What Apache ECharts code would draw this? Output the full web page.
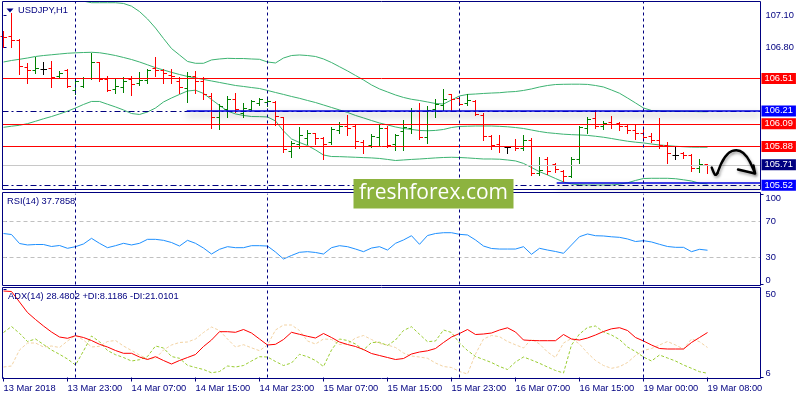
<!DOCTYPE html>
<html><head><meta charset="utf-8">
<script src="https://cdn.jsdelivr.net/npm/echarts@6/dist/echarts.min.js"></script>
<style>html,body{margin:0;padding:0;background:#fff}#c{width:800px;height:400px}</style>
</head><body><div id="c"></div>
<script>
// ---- x axis ticks / time labels ----
const tickIndex = [0, 8, 16, 24, 32, 40, 48, 56, 64, 72, 80, 88];
const tickLabels = ['13 Mar 2018', '13 Mar 23:00', '14 Mar 07:00', '14 Mar 15:00', '14 Mar 23:00', '15 Mar 07:00',
  '15 Mar 15:00', '15 Mar 23:00', '16 Mar 07:00', '16 Mar 15:00', '19 Mar 00:00', '19 Mar 08:00'];
const daySeparators = [9, 33, 57, 80];

// ---- USDJPY H1 OHLC ----
const open = [106.899,106.905,106.868,106.615,106.584,106.596,106.605,106.528,106.584,106.404,
  106.441,106.513,106.658,106.506,106.410,106.429,106.497,106.466,106.491,106.605,
  106.584,106.543,106.482,106.420,106.534,106.482,106.342,106.151,106.219,106.318,
  106.188,106.225,106.281,106.287,106.287,106.151,105.832,105.903,105.956,106.002,
  105.956,105.916,106.033,106.070,106.064,105.916,105.885,105.965,106.049,105.894,
  106.018,106.049,106.203,105.965,106.219,106.256,106.358,106.324,106.281,106.302,
  106.172,105.971,105.903,105.869,105.879,105.863,105.934,105.631,105.761,105.709,
  105.647,105.600,105.755,106.049,106.141,106.064,106.101,106.089,106.070,106.027,
  106.002,105.971,105.940,105.885,105.792,105.817,105.792,105.678,105.712];
const high = [106.952,107.115,106.874,106.652,106.707,106.667,106.673,106.584,106.599,106.497,
  106.522,106.744,106.667,106.534,106.513,106.522,106.534,106.574,106.596,106.707,
  106.596,106.596,106.522,106.574,106.581,106.528,106.380,106.271,106.352,106.373,
  106.281,106.312,106.327,106.318,106.302,106.157,105.934,106.058,106.033,106.009,
  105.965,106.058,106.111,106.172,106.080,105.940,105.996,106.080,106.070,105.993,
  106.126,106.234,106.281,106.256,106.318,106.410,106.367,106.342,106.364,106.312,
  106.188,105.987,105.987,105.888,105.947,105.987,105.956,105.786,105.780,105.724,
  105.662,105.780,106.070,106.151,106.219,106.120,106.163,106.111,106.089,106.080,
  106.064,106.002,106.141,105.925,105.879,105.832,105.811,105.761,105.716];
const low = [106.806,106.806,106.553,106.466,106.565,106.553,106.435,106.513,106.429,106.367,
  106.429,106.503,106.488,106.395,106.380,106.389,106.358,106.451,106.466,106.534,
  106.472,106.466,106.380,106.296,106.373,106.318,106.049,106.043,106.157,106.203,
  106.151,106.219,106.265,106.256,106.080,105.832,105.786,105.863,105.903,105.903,
  105.761,105.903,106.009,105.987,105.863,105.817,105.879,105.894,105.879,105.848,
  105.848,106.002,105.947,105.916,106.157,106.219,106.213,106.265,106.265,106.172,
  105.940,105.854,105.832,105.823,105.848,105.848,105.616,105.616,105.625,105.647,
  105.560,105.594,105.724,106.002,106.049,106.039,106.049,106.033,106.002,105.947,
  105.940,105.925,105.863,105.724,105.761,105.770,105.656,105.647,105.630];
const close = [106.893,106.862,106.621,106.584,106.605,106.596,106.522,106.559,106.441,106.482,
  106.513,106.661,106.506,106.404,106.435,106.482,106.451,106.488,106.584,106.584,
  106.553,106.528,106.429,106.534,106.482,106.367,106.151,106.250,106.318,106.219,
  106.234,106.296,106.312,106.302,106.157,105.848,105.910,105.978,106.002,105.956,
  105.903,106.039,106.070,106.049,105.925,105.879,105.971,106.049,105.885,105.978,
  106.055,106.203,105.965,106.213,106.265,106.312,106.312,106.274,106.305,106.179,
  105.971,105.888,105.879,105.869,105.863,105.940,105.631,105.656,105.647,105.662,
  105.600,105.761,106.058,106.132,106.070,106.095,106.080,106.064,106.033,105.996,
  105.965,105.940,105.885,105.811,105.792,105.792,105.678,105.709,105.705];

// ---- Bollinger bands ----
const bbUpper = [107.30,107.30,107.29,107.28,107.27,107.26,107.25,107.24,107.235,107.232,
  107.228,107.214,107.214,107.214,107.214,107.207,107.182,107.132,107.063,106.979,
  106.882,106.789,106.729,106.669,106.652,106.652,106.683,106.692,106.698,106.696,
  106.696,106.692,106.689,106.664,106.655,106.701,106.724,106.729,106.724,106.715,
  106.692,106.659,106.620,106.581,106.539,106.497,106.451,106.414,106.386,106.358,
  106.335,106.318,106.307,106.293,106.279,106.274,106.312,106.349,106.363,106.367,
  106.372,106.376,106.379,106.386,106.390,106.400,106.414,106.432,106.446,106.455,
  106.457,106.458,106.458,106.456,106.446,106.432,106.404,106.374,106.330,106.284,
  106.237,106.214,106.209,106.207,106.207,106.205,106.205,106.203,106.203];
const bbMiddle = [106.664,106.678,106.689,106.701,106.715,106.724,106.731,106.738,106.745,106.749,
  106.752,106.754,106.750,106.738,106.724,106.706,106.687,106.664,106.638,106.611,
  106.590,106.568,106.548,106.530,106.516,106.502,106.488,106.474,106.460,106.446,
  106.437,106.427,106.418,106.400,106.381,106.363,106.344,106.327,106.307,106.288,
  106.265,106.242,106.219,106.196,106.168,106.145,106.121,106.098,106.080,106.061,
  106.047,106.038,106.029,106.026,106.029,106.038,106.056,106.066,106.068,106.070,
  106.070,106.070,106.067,106.063,106.056,106.047,106.033,106.019,106.008,106.001,
  105.994,105.990,105.987,105.983,105.975,105.966,105.954,105.941,105.929,105.920,
  105.913,105.903,105.894,105.888,105.882,105.878,105.874,105.873,105.873];
const bbLower = [106.058,106.068,106.077,106.092,106.114,106.137,106.158,106.182,106.208,106.237,
  106.270,106.298,106.298,106.272,106.247,106.219,106.186,106.177,106.200,106.237,
  106.293,106.330,106.363,106.395,106.402,106.372,106.316,106.261,106.209,106.182,
  106.168,106.158,106.157,106.154,106.117,106.024,105.950,105.917,105.889,105.848,
  105.801,105.787,105.786,105.783,105.780,105.777,105.774,105.769,105.760,105.750,
  105.755,105.760,105.764,105.769,105.774,105.778,105.780,105.778,105.774,105.769,
  105.764,105.764,105.762,105.755,105.746,105.723,105.685,105.646,105.616,105.583,
  105.551,105.532,105.525,105.523,105.523,105.523,105.523,105.530,105.543,105.565,
  105.583,105.585,105.585,105.585,105.581,105.571,105.560,105.539,105.532];

// ---- RSI(14) ----
const rsi = [56.2,55.1,45.2,43.6,44.1,44.1,41.9,43.0,39.9,41.7,
  44.7,50.9,45.4,40.6,42.8,45.4,43.6,45.4,49.8,49.8,
  48.7,46.3,42.4,48.7,45.4,40.2,33.6,38.8,41.7,40.6,
  40.6,42.8,42.8,42.4,35.8,28.1,32.0,35.5,36.2,35.3,
  33.6,40.6,42.8,41.7,39.1,36.2,40.2,41.7,38.0,45.4,
  49.1,53.8,44.3,54.0,56.2,57.1,57.1,55.3,54.6,49.1,
  42.4,39.7,39.1,39.1,39.1,41.7,33.3,39.9,38.0,36.4,
  34.4,43.6,52.7,55.7,53.8,53.5,52.6,52.0,50.2,47.4,
  48.3,46.9,44.3,41.9,41.0,41.0,36.2,38.8,37.79];
const rsiLevels = [70, 30];

// ---- ADX(14) ----
const adx = [49.25,49.0,43.75,38.5,35.0,31.75,28.75,26.25,25.6,26.9,
  26.0,24.5,22.6,21.25,19.5,18.1,18.1,16.25,15.0,16.4,
  14.5,12.75,14.5,16.0,17.5,21.5,24.75,28.9,28.9,28.6,
  30.0,28.25,25.25,22.25,22.6,25.0,28.6,27.6,26.6,25.75,
  28.0,26.0,23.75,22.5,21.5,20.0,18.0,17.0,16.0,15.0,
  15.5,17.75,18.75,19.35,20.5,23.5,26.25,28.0,30.0,27.5,
  27.75,28.25,29.75,30.85,28.75,24.75,24.5,24.4,24.4,24.4,
  27.5,25.25,24.75,25.75,27.25,29.0,30.35,30.9,29.5,26.0,
  24.25,22.25,20.5,20.25,20.25,20.25,23.5,26.0,28.48];
const plusDI = [28.5,31.5,28.1,24.0,25.25,22.5,19.75,17.6,15.25,12.25,
  19.25,26.75,23.9,19.5,17.4,16.0,14.25,14.9,16.5,21.75,
  20.75,16.5,15.6,12.1,11.0,10.0,8.35,9.0,11.75,11.25,
  12.0,14.25,16.4,16.25,14.0,12.0,13.25,17.6,16.4,14.5,
  11.5,19.75,25.25,24.5,22.75,19.75,23.5,23.6,22.0,24.75,
  29.5,31.4,27.6,23.9,24.25,29.75,28.5,23.25,19.5,16.5,
  15.0,13.5,11.5,10.0,13.75,16.25,14.75,13.1,11.25,9.5,
  8.25,22.25,27.75,31.0,31.75,28.75,27.25,25.0,21.25,19.0,
  16.25,14.25,17.25,15.75,14.25,12.25,10.6,8.9,8.12];
const minusDI = [11.25,11.75,19.75,23.25,23.25,21.25,21.75,21.0,24.25,27.0,
  24.75,21.25,21.6,24.0,24.5,21.75,19.5,17.25,15.25,15.5,
  19.75,22.25,23.5,23.75,25.25,28.5,31.25,29.5,25.25,21.25,
  22.4,20.85,19.4,22.25,29.75,32.25,32.25,29.5,24.25,22.75,
  25.25,25.0,22.5,22.85,25.75,27.0,25.0,23.0,22.25,21.0,
  18.25,16.75,16.25,15.6,13.25,11.5,11.0,9.0,7.75,17.75,
  25.25,27.0,26.4,24.0,22.35,20.75,25.25,22.75,18.75,16.0,
  23.25,25.5,22.75,18.25,14.5,12.0,10.6,11.4,13.5,17.0,
  19.5,20.5,22.25,24.0,22.25,20.25,25.25,23.9,21.01];

// ---- horizontal levels ----
const redLevels = [106.51, 106.09, 105.88];
const bidLevel = 105.71;
const hLevels = [106.21, 105.52];
const trendLevels = [106.21, 105.545];
const trendStart = [22.9, 69.15];
const priceTicks = [107.10, 106.80];

// ---- styles / layout ----
const NAVY = '#000080';
const FONT = 'Liberation Sans';
const FS = 9.3;
const XMIN = -0.125, XMAX = 94.625;

const chart = echarts.init(document.getElementById('c'), null, {renderer: 'canvas'});

function xAx(g, showLabels) {
  return {
    type: 'value', gridIndex: g, min: XMIN, max: XMAX,
    axisLine: {show: false}, splitLine: {show: false},
    axisTick: showLabels ? {show: true, customValues: tickIndex, length: 4, lineStyle: {color: NAVY}} : {show: false},
    axisLabel: showLabels ? {
      show: true, customValues: tickIndex, align: 'left', margin: 6,
      color: NAVY, fontFamily: FONT, fontSize: FS,
      formatter: v => tickLabels[tickIndex.indexOf(Math.round(v))] || ''
    } : {show: false}
  };
}
function yAx(g, min, max, vals, fmt, vAlign) {
  return {
    type: 'value', gridIndex: g, position: 'right', min: min, max: max,
    axisLine: {show: false}, splitLine: {show: false},
    axisTick: {show: true, customValues: vals, length: 3, lineStyle: {color: NAVY}},
    axisLabel: {show: true, customValues: vals, margin: 5, color: NAVY, fontFamily: FONT, fontSize: FS,
      verticalAlign: vAlign || 'middle', formatter: fmt}
  };
}
const sepStyle = {color: NAVY, type: [3, 3], width: 1};

const ohlc = open.map((o, i) => [i, o, high[i], low[i], close[i]]);
const toXY = arr => arr.map((v, i) => [i, v]);

const lvlLabel = (bg, v) => ({show: true, backgroundColor: bg, formatter: v.toFixed(2)});
const levelData = [];
hLevels.forEach(v => levelData.push({yAxis: v, lineStyle: {color: NAVY, type: [6, 3, 2, 3], width: 1}, label: lvlLabel('#0000ff', v)}));
redLevels.forEach(v => levelData.push({yAxis: v, lineStyle: {color: '#ff0000', type: 'solid', width: 1}, label: lvlLabel('#ff0000', v)}));
levelData.push({yAxis: bidLevel, lineStyle: {color: '#c8c8c8', type: 'solid', width: 1}, label: lvlLabel(NAVY, bidLevel)});
trendLevels.forEach((v, k) => levelData.push([
  {coord: [trendStart[k], v], label: {show: false},
   lineStyle: {color: '#0000dd', type: 'solid', width: 1.5, shadowColor: 'rgba(0,0,0,0.45)', shadowBlur: 7, shadowOffsetY: 4}},
  {coord: [XMAX, v]}
]));
daySeparators.forEach(v => levelData.push({xAxis: v, lineStyle: sepStyle, label: {show: false}}));

const ARROW_STYLE = {fill: 'none', stroke: '#000000', lineWidth: 2.4, lineCap: 'round', lineJoin: 'round',
  shadowColor: 'rgba(0,0,0,0.35)', shadowBlur: 3, shadowOffsetX: 1, shadowOffsetY: 2};
const TXT = FS + 'px "' + FONT + '"';

const option = {
  animation: false,
  backgroundColor: '#ffffff',
  textStyle: {fontFamily: FONT},
  grid: [
    {left: 2.5, top: 1.5, width: 758, height: 188},
    {left: 2.5, top: 193.8, width: 758, height: 90.7},
    {left: 2.5, top: 289.5, width: 758, height: 88}
  ],
  xAxis: [xAx(0, false), xAx(1, false), xAx(2, true)],
  yAxis: [
    yAx(0, 105.481, 107.2252, priceTicks, v => v.toFixed(2)),
    yAx(1, 0, 100, [30, 70], v => String(v)),
    yAx(1, 0, 100, [100], v => String(v), 'top'),
    yAx(1, 0, 100, [0], v => String(v), 'bottom'),
    yAx(2, 6, 50, [50], v => String(v), 'top'),
    yAx(2, 6, 50, [6], v => String(v), 'bottom')
  ],
  series: [
    {
      type: 'line', xAxisIndex: 0, yAxisIndex: 0, data: [], silent: true, z: 1,
      markLine: {
        symbol: ['none', 'none'], silent: true, animation: false,
        label: {show: true, position: 'end', distance: 1, color: '#ffffff', fontFamily: FONT, fontSize: FS,
          padding: [1, 3, 0, 3], lineHeight: 10},
        data: levelData
      }
    },
    {type: 'line', xAxisIndex: 0, yAxisIndex: 0, data: toXY(bbUpper), showSymbol: false, z: 2,
      lineStyle: {color: '#3cb371', width: 1}, itemStyle: {color: '#3cb371'}},
    {type: 'line', xAxisIndex: 0, yAxisIndex: 0, data: toXY(bbMiddle), showSymbol: false, z: 2,
      lineStyle: {color: '#3cb371', width: 1}, itemStyle: {color: '#3cb371'}},
    {type: 'line', xAxisIndex: 0, yAxisIndex: 0, data: toXY(bbLower), showSymbol: false, z: 2,
      lineStyle: {color: '#3cb371', width: 1}, itemStyle: {color: '#3cb371'}},
    {
      type: 'custom', xAxisIndex: 0, yAxisIndex: 0, data: ohlc, z: 3,
      renderItem: function (params, api) {
        const i = api.value(0), o = api.value(1), h = api.value(2), l = api.value(3), c = api.value(4);
        const pH = api.coord([i, h]), pL = api.coord([i, l]), pO = api.coord([i, o]), pC = api.coord([i, c]);
        const x = Math.round(pH[0] - 0.5) + 0.5;
        const col = c > o ? '#008000' : (c < o ? '#ff0000' : '#000000');
        const yo = Math.round(pO[1] - 0.5) + 0.5, yc = Math.round(pC[1] - 0.5) + 0.5;
        const st = {stroke: col, lineWidth: 1};
        return {type: 'group', children: [
          {type: 'line', shape: {x1: x, y1: Math.round(pH[1]), x2: x, y2: Math.round(pL[1]) + 1}, style: st},
          {type: 'line', shape: {x1: x - 3, y1: yo, x2: x, y2: yo}, style: st},
          {type: 'line', shape: {x1: x, y1: yc, x2: x + 3.5, y2: yc}, style: st}
        ]};
      }
    },
    {
      type: 'line', xAxisIndex: 1, yAxisIndex: 1, data: toXY(rsi), showSymbol: false,
      lineStyle: {color: '#1e90ff', width: 1}, itemStyle: {color: '#1e90ff'},
      markLine: {
        symbol: ['none', 'none'], silent: true, label: {show: false},
        data: rsiLevels.map(v => ({yAxis: v, lineStyle: {color: '#c0c0c0', type: [4, 3], width: 1}}))
          .concat(daySeparators.map(v => ({xAxis: v, lineStyle: sepStyle})))
      }
    },
    {
      type: 'line', xAxisIndex: 2, yAxisIndex: 4, data: toXY(minusDI), showSymbol: false,
      lineStyle: {color: '#f3d3a3', width: 1, type: [3, 2]}, itemStyle: {color: '#f3d3a3'}
    },
    {
      type: 'line', xAxisIndex: 2, yAxisIndex: 4, data: toXY(plusDI), showSymbol: false,
      lineStyle: {color: '#9acd32', width: 1, type: [3, 2]}, itemStyle: {color: '#9acd32'}
    },
    {
      type: 'line', xAxisIndex: 2, yAxisIndex: 4, data: toXY(adx), showSymbol: false,
      lineStyle: {color: '#ff0000', width: 1}, itemStyle: {color: '#ff0000'},
      markLine: {
        symbol: ['none', 'none'], silent: true, label: {show: false},
        data: daySeparators.map(v => ({xAxis: v, lineStyle: sepStyle}))
      }
    }
  ],
  graphic: [
    {type: 'rect', shape: {x: 2.5, y: 1.5, width: 758, height: 188}, style: {fill: 'none', stroke: NAVY, lineWidth: 1}, z: 50, silent: true},
    {type: 'rect', shape: {x: 2.5, y: 192.5, width: 758, height: 93}, style: {fill: 'none', stroke: NAVY, lineWidth: 1}, z: 50, silent: true},
    {type: 'rect', shape: {x: 2.5, y: 287.5, width: 758, height: 91}, style: {fill: 'none', stroke: NAVY, lineWidth: 1}, z: 50, silent: true},
    {type: 'polygon', shape: {points: [[6.5, 8.5], [13.5, 8.5], [10, 12.5]]}, style: {fill: NAVY}, z: 60, silent: true},
    {type: 'text', x: 18, y: 10.5, style: {text: 'USDJPY,H1', fill: NAVY, font: TXT, verticalAlign: 'middle'}, z: 60, silent: true},
    {type: 'text', x: 7, y: 201, style: {text: 'RSI(14) 37.7858', fill: NAVY, font: TXT, verticalAlign: 'middle'}, z: 60, silent: true},
    {type: 'text', x: 8, y: 296, style: {text: 'ADX(14) 28.4802 +DI:8.1186 -DI:21.0101', fill: NAVY, font: TXT, verticalAlign: 'middle'}, z: 60, silent: true},
    {type: 'rect', shape: {x: 353.5, y: 179, width: 160, height: 29.5}, style: {fill: '#8db33f'}, z: 80, silent: true},
    {type: 'text', x: 433.5, y: 193.5, style: {text: 'freshforex.com', fill: '#ffffff', font: '21px "Open Sans"', align: 'center', verticalAlign: 'middle'}, z: 81, silent: true},
    {type: 'bezierCurve', shape: {x1: 711.7, y1: 167.5, cpx1: 713.5, cpy1: 172, cpx2: 715, cpy2: 178, x2: 717.5, y2: 173}, style: ARROW_STYLE, z: 70, silent: true},
    {type: 'bezierCurve', shape: {x1: 717.5, y1: 173, cpx1: 720, cpy1: 166, cpx2: 724, cpy2: 154, x2: 732, y2: 151}, style: ARROW_STYLE, z: 70, silent: true},
    {type: 'bezierCurve', shape: {x1: 732, y1: 151, cpx1: 740, cpy1: 148, cpx2: 746, cpy2: 154, x2: 750, y2: 162}, style: ARROW_STYLE, z: 70, silent: true},
    {type: 'polyline', shape: {points: [[750, 162], [755, 173]]}, style: ARROW_STYLE, z: 70, silent: true},
    {type: 'polyline', shape: {points: [[738, 169.5], [755, 173.5], [753.5, 165.5]]}, style: ARROW_STYLE, z: 70, silent: true}
  ]
};
chart.setOption(option);
</script></body></html>
